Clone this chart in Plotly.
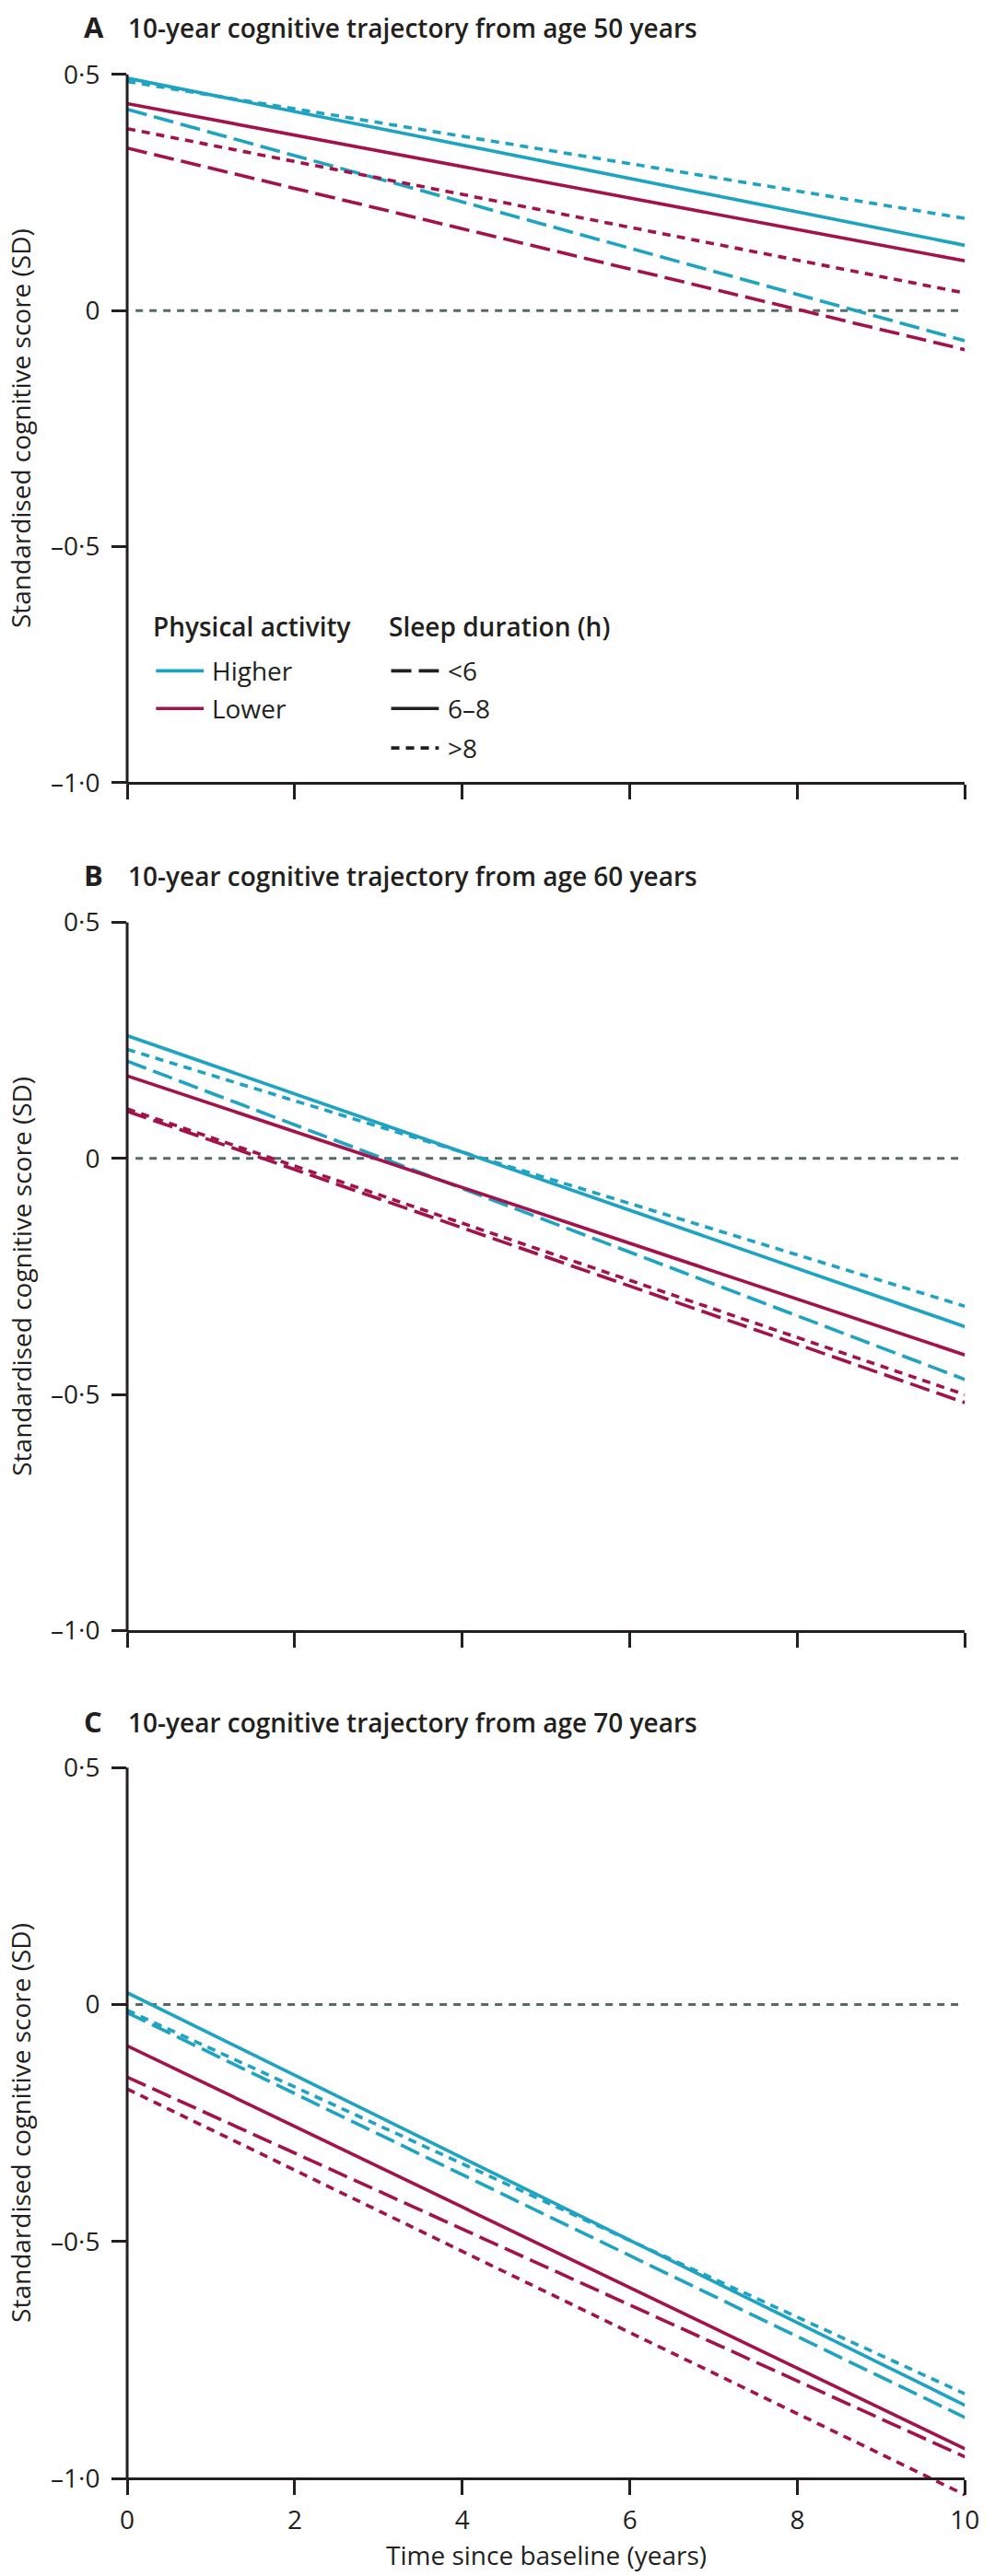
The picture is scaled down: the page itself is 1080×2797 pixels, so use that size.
import plotly.graph_objects as go

W, H = 1080, 2797

# ---------------- data ----------------
years = [0, 10]
x_ticks = [0, 2, 4, 6, 8, 10]
x_ticktext = ["0", "2", "4", "6", "8", "10"]
y_ticks = [-1.0, -0.5, 0, 0.5]
y_ticktext = ["–1·0", "–0·5", "0", "0·5"]

activity = ["Higher", "Lower"]
sleep = ["<6", "6–8", ">8"]

# Panel A: from age 50 years (value at year 0, value at year 10)
a_higher_lt6 = [0.426, -0.064]
a_higher_6_8 = [0.492, 0.138]
a_higher_gt8 = [0.485, 0.195]
a_lower_lt6 = [0.344, -0.083]
a_lower_6_8 = [0.438, 0.105]
a_lower_gt8 = [0.385, 0.037]

# Panel B: from age 60 years
b_higher_lt6 = [0.206, -0.468]
b_higher_6_8 = [0.260, -0.356]
b_higher_gt8 = [0.231, -0.313]
b_lower_lt6 = [0.100, -0.517]
b_lower_6_8 = [0.175, -0.416]
b_lower_gt8 = [0.105, -0.500]

# Panel C: from age 70 years
c_higher_lt6 = [-0.017, -0.871]
c_higher_6_8 = [0.025, -0.845]
c_higher_gt8 = [-0.012, -0.821]
c_lower_lt6 = [-0.153, -0.954]
c_lower_6_8 = [-0.087, -0.937]
c_lower_gt8 = [-0.178, -1.034]

panel_letters = ["A", "B", "C"]
panel_titles = [
    "10-year cognitive trajectory from age 50 years",
    "10-year cognitive trajectory from age 60 years",
    "10-year cognitive trajectory from age 70 years",
]

panel_series = [
    [a_higher_lt6, a_higher_6_8, a_higher_gt8, a_lower_lt6, a_lower_6_8, a_lower_gt8],
    [b_higher_lt6, b_higher_6_8, b_higher_gt8, b_lower_lt6, b_lower_6_8, b_lower_gt8],
    [c_higher_lt6, c_higher_6_8, c_higher_gt8, c_lower_lt6, c_lower_6_8, c_lower_gt8],
]

# ---------------- styles ----------------
TEAL = "#1ea3c3"
CRIMSON = "#a3124b"
INK = "#231f20"
ZERO = "#56696a"
FONT = "Open Sans"
colors = {"Higher": TEAL, "Lower": CRIMSON}
dashes = {"<6": "22px,8px", "6–8": "solid", ">8": "9px,7px"}
LW = 3.6
TXT = 28
HEAD = 28

# pixel geometry of each panel: (pixel of y=0.5, pixel of y=-1.0)
panels_px = [(71, 843), (995, 1767), (1916, 2691)]
X0_PX, X1_PX = 133, 1063
YMIN, YMAX = -1.06, 0.52


def py(px):
    return 1 - px / H


def pxx(px):
    return px / W


fig = go.Figure()
layout = dict(
    width=W, height=H, autosize=False,
    margin=dict(l=0, r=0, t=0, b=0),
    paper_bgcolor="white", plot_bgcolor="white",
    showlegend=False,
    font=dict(family=FONT, color=INK, size=TXT),
)
shapes = []
annotations = []

for i, (top, bot) in enumerate(panels_px):
    n = "" if i == 0 else str(i + 1)
    ppu = (bot - top) / 1.5
    dom_top = top - (YMAX - 0.5) * ppu
    dom_bot = bot + (-1.0 - YMIN) * ppu
    last = i == 2
    layout["xaxis" + n] = dict(
        domain=[pxx(X0_PX), pxx(X1_PX)], range=[0, 10],
        anchor="free", position=py(bot),
        tickvals=x_ticks, ticktext=x_ticktext,
        showticklabels=last, ticks="outside", ticklen=16, tickwidth=3,
        tickcolor=INK, showline=True, linewidth=3, linecolor=INK,
        showgrid=False, zeroline=False, ticklabelstandoff=3,
        tickfont=dict(family=FONT, size=TXT, color=INK),
    )
    layout["yaxis" + n] = dict(
        domain=[py(dom_bot), py(dom_top)], range=[YMIN, YMAX],
        anchor="x" + n, tickvals=y_ticks, ticktext=y_ticktext,
        ticks="outside", ticklen=16, tickwidth=3, tickcolor=INK,
        showline=False, showgrid=False, zeroline=False, ticklabelstandoff=7,
        tickfont=dict(family=FONT, size=TXT, color=INK),
    )
    # y axis line between 0.5 and -1.0
    shapes.append(dict(type="line", xref="paper", yref="paper",
                       x0=pxx(X0_PX), x1=pxx(X0_PX), y0=py(bot + 1.5), y1=py(top),
                       line=dict(color=INK, width=3)))
    # reference line at 0
    shapes.append(dict(type="line", xref="x" + n, yref="y" + n,
                       x0=0.1, x1=10, y0=0, y1=0, layer="below",
                       line=dict(color=ZERO, width=3, dash="8px,7px")))

    k = 0
    for act in activity:
        for s in sleep:
            vals = panel_series[i][k]
            k += 1
            fig.add_trace(go.Scatter(
                x=years, y=vals, mode="lines", name=f"{act} PA, sleep {s} h",
                xaxis="x" + n, yaxis="y" + n,
                line=dict(color=colors[act], width=LW, dash=dashes[s]),
                hoverinfo="skip",
            ))

    # panel title
    title_y = [19, 943, 1866][i]
    annotations.append(dict(text=panel_letters[i], xref="paper", yref="paper",
                            x=pxx(83), y=py(title_y), xanchor="left", yanchor="middle",
                            showarrow=False,
                            font=dict(family=FONT, size=31, color=INK, weight=700)))
    annotations.append(dict(text=panel_titles[i], xref="paper", yref="paper",
                            x=pxx(132), y=py(title_y + 1), xanchor="left", yanchor="middle",
                            showarrow=False,
                            font=dict(family=FONT, size=HEAD, color=INK, weight=600)))
    # y axis title
    annotations.append(dict(text="Standardised cognitive score (SD)", xref="paper", yref="paper",
                            x=pxx(15), y=py((top + bot) / 2), xanchor="center", yanchor="middle",
                            textangle=-90, showarrow=False,
                            font=dict(family=FONT, size=TXT, color=INK)))

# x axis title
annotations.append(dict(text="Time since baseline (years)", xref="paper", yref="paper",
                        x=pxx((X0_PX + X1_PX) / 2), y=py(2774), xanchor="center", yanchor="middle",
                        showarrow=False, font=dict(family=FONT, size=TXT, color=INK)))

# ---------------- legend (panel A) ----------------
annotations.append(dict(text="Physical activity", xref="paper", yref="paper",
                        x=pxx(160), y=py(672), xanchor="left", yanchor="middle",
                        showarrow=False, font=dict(family=FONT, size=HEAD, color=INK, weight=600)))
annotations.append(dict(text="Sleep duration (h)", xref="paper", yref="paper",
                        x=pxx(421), y=py(672), xanchor="left", yanchor="middle",
                        showarrow=False, font=dict(family=FONT, size=HEAD, color=INK, weight=600)))
act_rows = [721, 762]
for act, ry in zip(activity, act_rows):
    shapes.append(dict(type="line", xref="paper", yref="paper",
                       x0=pxx(165), x1=pxx(218), y0=py(ry), y1=py(ry),
                       line=dict(color=colors[act], width=LW)))
    annotations.append(dict(text=act, xref="paper", yref="paper",
                            x=pxx(225), y=py(ry), xanchor="left", yanchor="middle",
                            showarrow=False, font=dict(family=FONT, size=TXT, color=INK)))
sleep_rows = [721, 762, 805]
for s, ry in zip(sleep, sleep_rows):
    shapes.append(dict(type="line", xref="paper", yref="paper",
                       x0=pxx(426), x1=pxx(479), y0=py(ry), y1=py(ry),
                       line=dict(color=INK, width=LW, dash=dashes[s])))
    annotations.append(dict(text=s.replace("<", "&lt;").replace(">", "&gt;"), xref="paper", yref="paper",
                            x=pxx(487), y=py(ry), xanchor="left", yanchor="middle",
                            showarrow=False, font=dict(family=FONT, size=TXT, color=INK)))

layout["shapes"] = shapes
layout["annotations"] = annotations
fig.update_layout(**layout)
fig.write_html("out.html")
